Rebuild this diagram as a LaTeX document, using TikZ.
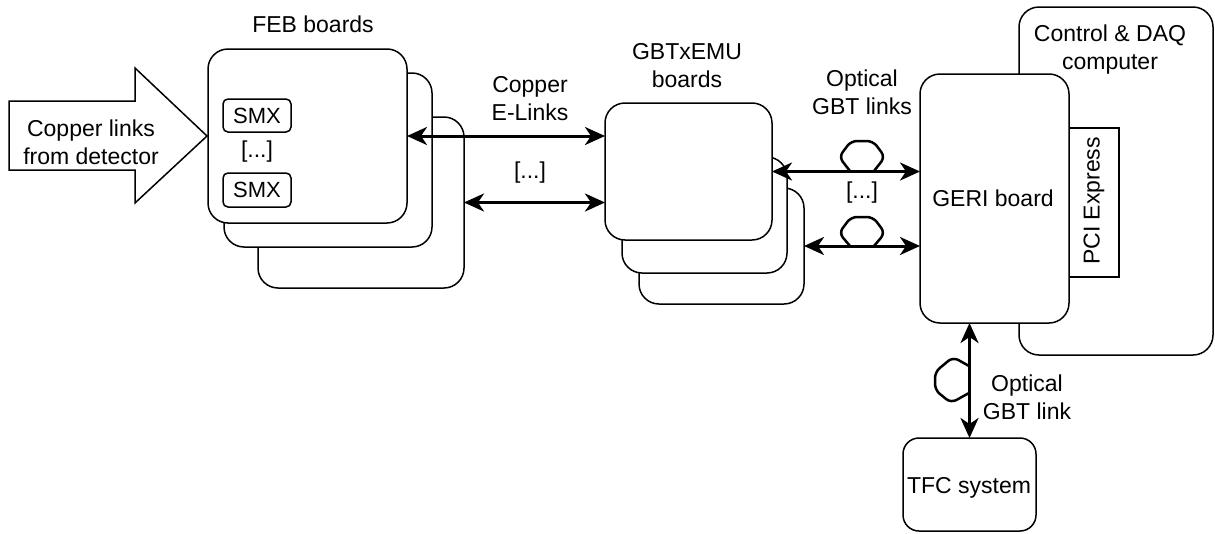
\documentclass[tikz,border=0pt]{standalone}
\usepackage{fontspec}
\setmainfont{Liberation Sans}
\usetikzlibrary{arrows.meta}
\begin{document}
\begin{tikzpicture}[x=1pt,y=-1pt,
  board/.style={draw, line width=1.5pt, rounded corners=20pt, fill=white, inner sep=0pt, outer sep=0pt, anchor=north west},
  chip/.style={draw, line width=1.5pt, rounded corners=5pt, fill=white, inner sep=0pt, outer sep=0pt, anchor=north west, font=\fontsize{22}{26}\selectfont},
  lbl/.style={align=center, inner sep=0pt, font=\fontsize{23}{28}\selectfont},
  link/.style={line width=3pt, {Stealth[length=20pt,width=18pt,inset=6pt]}-{Stealth[length=20pt,width=18pt,inset=6pt]}},
  coil/.style={line width=2.5pt, rounded corners=6pt, line join=round}
]
\useasboundingbox (0,0) rectangle (1215,533);

% big input arrow
\draw[line width=1.5pt, line join=miter] (9,101) -- (135,101) -- (135,68) -- (207,136) -- (135,203) -- (135,170) -- (9,170) -- cycle;
\node[lbl] (inlbl) at (91,142) {Copper links\\from detector};

% FEB boards
\node[board, minimum width=206pt, minimum height=171pt] (feb3) at (258,117) {};
\node[board, minimum width=208pt, minimum height=174pt] (feb2) at (224,73) {};
\node[board, minimum width=199pt, minimum height=174pt] (feb1) at (208,49) {};
\node[chip, minimum width=68pt, minimum height=33pt] (smx1) at (223,99) {};
\node[lbl, font=\fontsize{22}{26}\selectfont] (smx1t) at (smx1.center) {SMX};
\node[chip, minimum width=68pt, minimum height=34pt] (smx2) at (223,173) {};
\node[lbl, font=\fontsize{22}{26}\selectfont] (smx2t) at (smx2.center) {SMX};
\node[lbl] (febdots) at (257,152) {[...]};
\node[lbl] (feblbl) at (313,24) {FEB boards};

% GBTxEMU boards
\node[board, minimum width=165pt, minimum height=116pt] (gbt3) at (639,188) {};
\node[board, minimum width=165pt, minimum height=116pt] (gbt2) at (622,157) {};
\node[board, minimum width=167pt, minimum height=137pt] (gbt1) at (605,103) {};
\node[lbl] (gbtlbl) at (687,66) {GBTxEMU\\boards};

% Computer, PCI, GERI
\node[board, minimum width=194pt, minimum height=348pt] (comp) at (1019,7) {};
\node[lbl] (complbl) at (1110,50) {Control \& DAQ\\computer};
\node[draw, line width=1.5pt, fill=white, inner sep=0pt, outer sep=0pt, anchor=north west, minimum width=50pt, minimum height=149pt] (pci) at (1069,128) {};
\node[lbl, rotate=90] (pcilbl) at (1094,201) {PCI Express};
\node[board, minimum width=149pt, minimum height=249pt] (geri) at (920,74) {};
\node[lbl] (gerilbl) at (993,198) {GERI board};

% TFC
\node[board, rounded corners=16pt, minimum width=133pt, minimum height=93pt] (tfc) at (903,438) {};
\node[lbl] (tfclbl) at (969,488) {TFC system};

% copper e-links
\draw[link] (feb1.east) -- (feb1.east -| gbt1.west);
\draw[link] (feb3.east) -- (feb3.east -| gbt1.west);
\node[lbl] (cuLbl) at (530,99) {Copper\\E-Links};
\node[lbl] (cuDots) at (530,173) {[...]};

% optical links
\draw[link] (gbt1.east) -- (gbt1.east -| geri.west);
\draw[link] (gbt3.east) -- (gbt3.east -| geri.west);
\draw[coil] (850,171) -- (839,157) -- (851,141) -- (873,141) -- (885,157) -- (874,171);
\draw[coil] (850,246) -- (839,233) -- (851,217) -- (873,217) -- (885,233) -- (874,246);
\node[lbl] (optLbl) at (862,92) {Optical\\GBT links};
\node[lbl] (optDots) at (862,193) {[...]};

% TFC link
\draw[link] (tfc.north) -- (tfc.north |- geri.south);
\draw[coil] (969,366) -- (953,357) -- (935,372) -- (935,390) -- (951,403) -- (969,393);
\node[lbl] (tfcLinkLbl) at (1027,397) {Optical\\GBT link};
\end{tikzpicture}
\end{document}
